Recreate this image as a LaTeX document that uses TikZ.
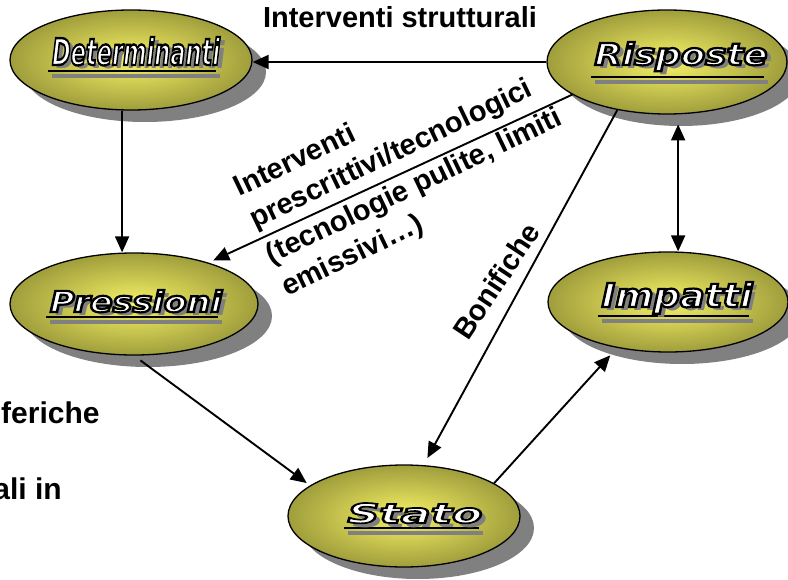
\documentclass[tikz,border=0pt]{standalone}
\usepackage{fontspec}
\usepackage{graphicx}
\setmainfont{Liberation Sans}
\newfontfamily\lblfont{DejaVu Sans}
\usetikzlibrary{shapes.geometric,arrows.meta,calc}
\definecolor{olivein}{HTML}{F6F266}
\definecolor{oliveout}{HTML}{A09E3C}
\definecolor{shadowgray}{HTML}{808080}
\tikzset{
  ell/.style={ellipse, draw=black, line width=1.3pt, inner color=olivein, outer color=oliveout, inner sep=0pt},
  ellshadow/.style={ellipse, fill=shadowgray, draw=none, inner sep=0pt},
  arr/.style={line width=1.9pt, -{Triangle[length=16pt,width=14pt]}},
  darr/.style={line width=1.9pt, {Triangle[length=16pt,width=14pt]}-{Triangle[length=16pt,width=14pt]}},
  lbl/.style={font=\bfseries\fontsize{29}{34}\selectfont, inner sep=0pt},
  fl/.style={inner sep=0pt, anchor=base},
}
% #1 stroke width, #2 text
\newcommand\outlined[2]{\special{pdf:literal direct 2 Tr #1 w 0 0 0 RG}#2\special{pdf:literal direct 0 Tr}}
% #1 x, #2 baseline y, #3 width, #4 height, #5 underline y, #6 text, #7 name, #8 font size, #9 stroke
\newcommand\fancylbl[9]{%
  \draw[line width=4pt, shadowgray] (#1-#3/2,#5+5) -- (#1+#3/2,#5+5);
  \draw[line width=2.6pt, black] (#1-#3/2-4,#5) -- (#1+#3/2-4,#5);
  \node[fl, text=shadowgray] at (#1+5,#2+4) {\resizebox{#3pt}{#4pt}{\lblfont\fontsize{#8}{#8}\selectfont\bfseries\itshape #6}};
  \node[fl, text=white] (#7) at (#1,#2) {\resizebox{#3pt}{#4pt}{\lblfont\fontsize{#8}{#8}\selectfont\bfseries\itshape\outlined{#9}{#6}}};
}
% #1 name, #2 options, #3 position, #4 text
\newcommand\plaintext[4]{%
  \node[lbl, #2] (#1) at #3 {#4};
}
\begin{document}
\begin{tikzpicture}[x=1pt,y=-1pt]
\path[use as bounding box] (0,0) rectangle (788,580);
\clip (0,0) rectangle (788,580);
% shadows
\node[ellshadow, minimum width=242pt, minimum height=100pt] (Dsh) at (145,72) {};
\node[ellshadow, minimum width=240pt, minimum height=104pt] (Rsh) at (681,74) {};
\node[ellshadow, minimum width=248pt, minimum height=102pt] (Psh) at (148,316) {};
\node[ellshadow, minimum width=240pt, minimum height=100pt] (Ish) at (682,314) {};
\node[ellshadow, minimum width=232pt, minimum height=102pt] (Ssh) at (418,528) {};
% ellipses
\node[ell, minimum width=242pt, minimum height=100pt] (D) at (131,60) {};
\node[ell, minimum width=240pt, minimum height=104pt] (R) at (667,62) {};
\node[ell, minimum width=248pt, minimum height=102pt] (P) at (134,304) {};
\node[ell, minimum width=240pt, minimum height=100pt] (I) at (668,302) {};
\node[ell, minimum width=232pt, minimum height=102pt] (S) at (404,516) {};
% ellipse labels
\fancylbl{136}{65}{168}{28}{71}{Determinanti}{Dt}{37}{2.4}
\fancylbl{681}{65}{173}{23}{77}{Risposte}{Rt}{30}{2.2}
\fancylbl{136}{312}{172}{22}{317}{Pressioni}{Pt}{29}{2.2}
\fancylbl{415}{523}{135}{20}{528}{Stato}{St}{27}{1.7}
\fancylbl{677}{307}{151}{25}{316}{Impatti}{It}{33}{2.2}
% connectors
\draw[arr] (R.west) -- (R.west -| D.east);
\draw[arr] (D.260) -- (D.260 |- P.north);
\draw[arr, shorten >=5pt] (R.199) -- (P.29);
\draw[arr, shorten >=8pt] (R.224) -- (S.69);
\draw[arr, shorten <=8pt, shorten >=4pt] (P.south) -- (S.162);
\draw[arr, shorten >=10pt] (S.20) -- (I.222);
\draw[darr, shorten <=10pt] (R.282) -- (R.282 |- I.north);
% labels
\plaintext{tstr}{anchor=base}{(400,28)}{Interventi strutturali}
\plaintext{tl1}{anchor=base west, rotate=25.6}{(239.6,196.9)}{Interventi}
\plaintext{tl2}{anchor=base west, rotate=25.6}{(254.9,228.9)}{prescrittivi/tecnologici}
\plaintext{tl3}{anchor=base west, rotate=25.6}{(271.6,264.2)}{(tecnologie pulite, limiti}
\plaintext{tl4}{anchor=base west, rotate=25.6}{(286.9,296.2)}{emissivi…)}
\plaintext{tbon}{anchor=base west, rotate=56.4}{(468,342)}{Bonifiche}
\plaintext{tfer}{anchor=base west, font=\bfseries\fontsize{30}{34}\selectfont}{(1,423)}{feriche}
\plaintext{tali}{anchor=base east, font=\bfseries\fontsize{30}{34}\selectfont}{(62,499)}{ali in}
\end{tikzpicture}
\end{document}
